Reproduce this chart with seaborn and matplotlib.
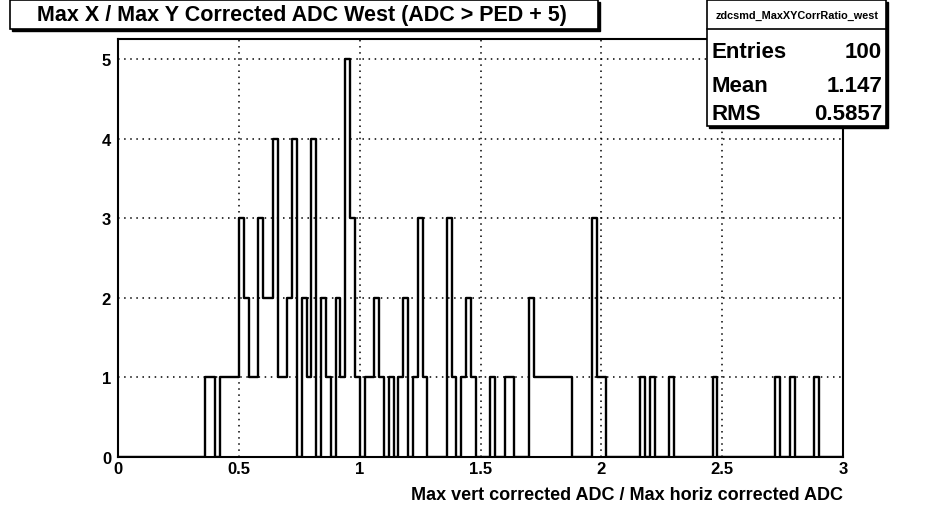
import numpy as np
import pandas as pd
import seaborn as sns
import matplotlib.pyplot as plt
from matplotlib.patches import Rectangle
from matplotlib.ticker import MultipleLocator

sns.set_theme(style="white")
plt.rcParams['font.family'] = ['Liberation Sans', 'DejaVu Sans']
plt.rcParams['font.weight'] = 'bold'

# ---- data: histogram with 150 bins of width 0.02 on [0, 3] ----
bin_left = [0.36, 0.38, 0.42, 0.44, 0.46, 0.48, 0.50, 0.52, 0.54, 0.56,
            0.58, 0.60, 0.62, 0.64, 0.66, 0.68, 0.70, 0.72, 0.76, 0.78,
            0.80, 0.84, 0.86, 0.90, 0.92, 0.94, 0.96, 0.98, 1.02, 1.04,
            1.06, 1.08, 1.12, 1.16, 1.18, 1.22, 1.24, 1.26, 1.36,
            1.38, 1.42, 1.44, 1.46, 1.54, 1.60, 1.62, 1.70, 1.72, 1.74,
            1.76, 1.78, 1.80, 1.82, 1.84, 1.86, 1.96, 1.98, 2.00, 2.16,
            2.20, 2.28, 2.46, 2.72, 2.78, 2.88]
counts = [1, 1, 1, 1, 1, 1, 3, 2, 1, 1,
          3, 2, 2, 4, 1, 1, 2, 4, 2, 1,
          4, 2, 1, 2, 1, 5, 3, 1, 1, 1,
          2, 1, 1, 1, 2, 1, 3, 1, 3,
          1, 1, 2, 1, 1, 1, 1, 2, 1, 1,
          1, 1, 1, 1, 1, 1, 3, 1, 1, 1,
          1, 1, 1, 1, 1, 1]
bin_width = 0.02
x_range = (0.0, 3.0)
x_ticks = [0, 0.5, 1, 1.5, 2, 2.5, 3]
x_tick_labels = ["0", "0.5", "1", "1.5", "2", "2.5", "3"]
y_ticks = [0, 1, 2, 3, 4, 5]

title = "Max X / Max Y Corrected ADC West (ADC > PED + 5)"
x_label = "Max vert corrected ADC / Max horiz corrected ADC"
hist_name = "zdcsmd_MaxXYCorrRatio_west"
stat_names = ["Entries", "Mean", "RMS"]
stat_values = ["100", "1.147", "0.5857"]

df = pd.DataFrame({"x": np.array(bin_left) + bin_width / 2, "w": counts})

W, H = 930, 506
fig = plt.figure(figsize=(W / 100, H / 100), dpi=100)
fig.patch.set_facecolor("white")

def fx(px):
    return px / W

def fy(py):
    return 1 - py / H

ax = fig.add_axes([fx(118), fy(458), fx(843) - fx(118), fy(40) - fy(458)])
ax.set_facecolor("white")

sns.histplot(data=df, x="x", weights="w", binwidth=bin_width, binrange=x_range,
             element="step", fill=False, color="black", linewidth=1.7, ax=ax, zorder=3)

ax.set_xlim(*x_range)
ax.set_ylim(0, 5.25)
ax.set_xticks(x_ticks)
ax.set_xticklabels(x_tick_labels)
ax.set_yticks(y_ticks)
ax.xaxis.set_minor_locator(MultipleLocator(0.1))
ax.yaxis.set_minor_locator(MultipleLocator(0.2))
ax.grid(True, which="major", color="black", linestyle=(0, (1, 3)), linewidth=1.1, zorder=1)
ax.set_axisbelow(True)
ax.tick_params(axis="x", which="major", direction="in", length=12, width=1,
               color="black", labelsize=12, top=False, right=False,
               labelcolor="black", pad=3)
ax.tick_params(axis="y", which="major", direction="in", length=12, width=1,
               color="black", labelsize=12, top=False, right=False,
               labelcolor="black", pad=5)
ax.tick_params(axis="both", which="minor", direction="in", length=6, width=1,
               color="black", top=False, right=False)
for lab in ax.get_xticklabels() + ax.get_yticklabels():
    lab.set_fontweight("bold")
for sp in ax.spines.values():
    sp.set_color("black")
    sp.set_linewidth(1.5)
ax.set_ylabel("")
ax.set_xlabel("")
fig.text(fx(843), fy(496), x_label, ha="right", va="center", fontsize=13,
         fontweight="bold", color="black")

# ---- title box ----
def box(x0, y0, x1, y1, z=10):
    shadow = Rectangle((fx(x0 + 2), fy(y1 + 2)), fx(x1) - fx(x0), fy(y0) - fy(y1),
                       transform=fig.transFigure, facecolor="black", edgecolor="black",
                       linewidth=1, zorder=z)
    face = Rectangle((fx(x0), fy(y1)), fx(x1) - fx(x0), fy(y0) - fy(y1),
                     transform=fig.transFigure, facecolor="white", edgecolor="black",
                     linewidth=1.2, zorder=z + 1)
    fig.add_artist(shadow)
    fig.add_artist(face)

box(10, 1, 598, 30)
fig.text(fx(302), fy(15), title, ha="center", va="center", fontsize=15.5,
         fontweight="bold", color="black", zorder=20)

# ---- stats box ----
box(707, 1, 886, 127)
fig.add_artist(plt.Line2D([fx(707), fx(886)], [fy(30), fy(30)], transform=fig.transFigure,
                          color="black", linewidth=1.2, zorder=21))
fig.text(fx(797), fy(16), hist_name, ha="center", va="center", fontsize=7.8,
         fontweight="bold", color="black", zorder=20)
row_y = [53, 87, 115]
for name, val, yy in zip(stat_names, stat_values, row_y):
    fig.text(fx(711), fy(yy), name, ha="left", va="center", fontsize=16,
             fontweight="bold", color="black", zorder=20)
    fig.text(fx(882), fy(yy), val, ha="right", va="center", fontsize=16,
             fontweight="bold", color="black", zorder=20)

fig.savefig("out.png", dpi=100, facecolor="white")
